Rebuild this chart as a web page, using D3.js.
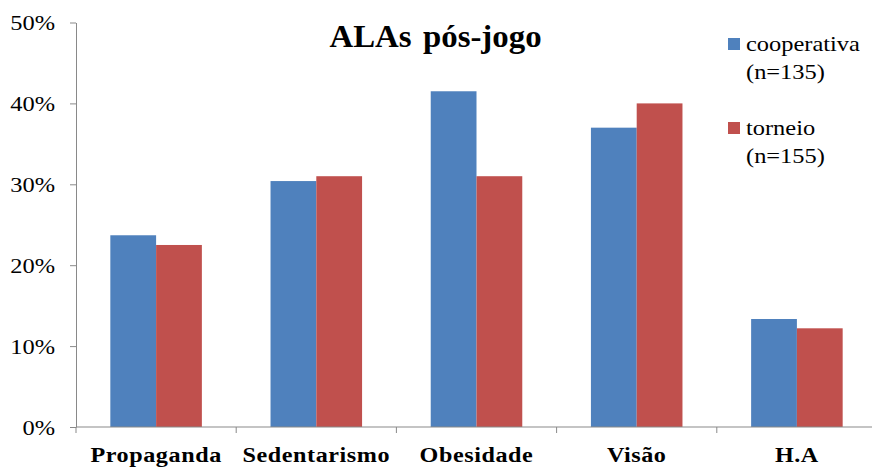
<!DOCTYPE html>
<html><head><meta charset="utf-8">
<script src="https://cdn.jsdelivr.net/npm/d3@7"></script>
<style>body{margin:0;background:#fff}svg{display:block}</style>
</head><body>
<svg id="c" width="872" height="467"></svg>
<script>
const categories = ["Propaganda","Sedentarismo","Obesidade","Visão","H.A"];
const seriesNames = ["cooperativa","torneio"];
const seriesN = ["(n=135)","(n=155)"];
const cooperativa = [23.7, 30.4, 41.5, 37.0, 13.35];
const torneio = [22.5, 31.0, 31.0, 40.0, 12.2];
const yTicks = [0,10,20,30,40,50];
const colors = ["#4F81BD","#C0504D"];

(function(){
const SX = 1.11; // horizontal text stretch
const FS = 22;
const FF = '"Liberation Serif"';
const svg = d3.select("#c");
const pLeft = 76, pRight = 877, pTop = 22.5, pBottom = 427;
const x = d3.scaleBand().domain(categories).range([pLeft,pRight]).padding(0);
const y = d3.scaleLinear().domain([0,50]).range([pBottom,pTop]);
const barW = x.bandwidth()/3.5;

// bars
const data = [cooperativa, torneio];
data.forEach((vals,si)=>{
  svg.append("g").selectAll("rect").data(categories).join("rect")
    .attr("x", (d)=> x(d) + x.bandwidth()/2 - barW + si*barW)
    .attr("y", (d,i)=> y(vals[i]))
    .attr("width", barW)
    .attr("height", (d,i)=> pBottom - y(vals[i]))
    .attr("fill", colors[si]);
});

// y axis
const ya = svg.append("g").attr("transform",`translate(${pLeft},0)`)
  .call(d3.axisLeft(y).tickValues(yTicks).tickFormat(d=>d+"%").tickSize(6).tickSizeOuter(0));
ya.select(".domain").attr("stroke","#898989");
ya.selectAll(".tick line").attr("stroke","#898989");
ya.selectAll(".tick text").style("font-family",FF).attr("font-size",FS).attr("fill","#000")
  .attr("x", -21/SX).attr("dy","0.33em").attr("transform",`scale(${SX},1)`);

// x axis
const xa = svg.append("g").attr("transform",`translate(0,${pBottom})`);
xa.append("line").attr("x1",pLeft).attr("x2",pRight).attr("stroke","#898989");
const bounds = categories.map(c=>x(c)).concat([x(categories[categories.length-1])+x.bandwidth()]);
xa.selectAll(".tk").data(bounds).join("line").attr("class","tk")
  .attr("x1",d=>d).attr("x2",d=>d).attr("y1",0).attr("y2",6).attr("stroke","#898989");
xa.selectAll(".lbl").data(categories).join("text").attr("class","lbl")
  .attr("transform",d=>`translate(${x(d)+x.bandwidth()/2},35) scale(1.15,1)`)
  .attr("text-anchor","middle").style("font-family",FF).attr("font-weight","bold")
  .attr("font-size",21).attr("letter-spacing","0.5px").text(d=>d);

// title
svg.append("text").attr("transform",`translate(435.5,47) scale(1.06,1)`)
  .attr("text-anchor","middle").style("font-family",FF).attr("font-weight","bold")
  .attr("font-size",31).attr("word-spacing","3px").text("ALAs pós-jogo");

// legend
const lg = svg.append("g");
const legY = [38, 122];
seriesNames.forEach((s,i)=>{
  lg.append("rect").attr("x",728).attr("y",legY[i]).attr("width",12).attr("height",12).attr("fill",colors[i]);
  lg.append("text").attr("transform",`translate(746,${legY[i]+13}) scale(${SX},1)`)
    .style("font-family",FF).attr("font-size",FS).text(s);
  lg.append("text").attr("transform",`translate(746,${legY[i]+41}) scale(${SX},1)`)
    .style("font-family",FF).attr("font-size",FS).text(seriesN[i]);
});
})();
</script>
</body></html>
